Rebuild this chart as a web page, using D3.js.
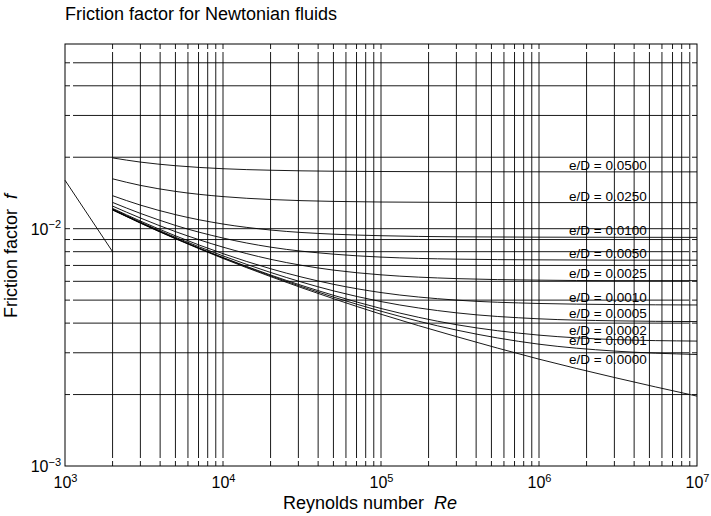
<!DOCTYPE html>
<html>
<head>
<meta charset="utf-8">
<script src="https://cdn.jsdelivr.net/npm/d3@7"></script>
<style>
body{margin:0;background:#fff;}
text{font-family:"Liberation Sans",Arial,Helvetica,sans-serif;fill:#000;white-space:pre;}
.title,.axislabel{font-size:18px;}
.ticklabel{font-size:16px;}
.legend{font-size:13.5px;}
.grid{stroke:#000;stroke-width:0.9;fill:none;}
.curve{stroke:#000;stroke-width:0.9;fill:none;}
.frame{stroke:#000;stroke-width:1;fill:none;}
</style>
</head>
<body>
<svg id="chart" width="711" height="516"></svg>
<script>
// Reynolds numbers where the curves were read
const reynolds = [2e3, 3e3, 5e3, 1e4, 2e4, 5e4, 1e5, 3e5, 1e6, 3e6, 1e7];

// friction factor read for each relative roughness e/D
const ed0500 = [0.01987, 0.01908, 0.01842, 0.01789, 0.01763, 0.01746, 0.01741, 0.01737, 0.01736, 0.01735, 0.01735];
const ed0250 = [0.01622, 0.01522, 0.01436, 0.01365, 0.01327, 0.01303, 0.01295, 0.01290, 0.01288, 0.01288, 0.01287];
const ed0100 = [0.01377, 0.01257, 0.01146, 0.01046, 0.00987, 0.00948, 0.00934, 0.00924, 0.00921, 0.00920, 0.00919];
const ed0050 = [0.01290, 0.01160, 0.01032, 0.00913, 0.00836, 0.00781, 0.00759, 0.00744, 0.00739, 0.00737, 0.00737];
const ed0025 = [0.01245, 0.01109, 0.00972, 0.00836, 0.00743, 0.00669, 0.00639, 0.00616, 0.00607, 0.00604, 0.00604];
const ed0010 = [0.01217, 0.01077, 0.00933, 0.00785, 0.00678, 0.00583, 0.00538, 0.00500, 0.00484, 0.00479, 0.00477];
const ed0005 = [0.01210, 0.01066, 0.00920, 0.00768, 0.00654, 0.00547, 0.00493, 0.00442, 0.00417, 0.00409, 0.00406];
const ed0002 = [0.01203, 0.01060, 0.00912, 0.00756, 0.00638, 0.00524, 0.00461, 0.00394, 0.00356, 0.00341, 0.00336];
const ed0001 = [0.01201, 0.01058, 0.00909, 0.00753, 0.00633, 0.00515, 0.00449, 0.00374, 0.00326, 0.00305, 0.00295];
const ed0000 = [0.01199, 0.01055, 0.00907, 0.00749, 0.00628, 0.00507, 0.00436, 0.00351, 0.00282, 0.00236, 0.00197];

const roughness = ["0.0500", "0.0250", "0.0100", "0.0050", "0.0025", "0.0010", "0.0005", "0.0002", "0.0001", "0.0000"];
const curves = [ed0500, ed0250, ed0100, ed0050, ed0025, ed0010, ed0005, ed0002, ed0001, ed0000];

// laminar branch
const laminarRe = [1e3, 2e3];
const laminarF = [0.016, 0.008];

const reTicks = [1e3, 1e4, 1e5, 1e6, 1e7];
const fTicks = [1e-3, 1e-2];
const labelRe = 1.55e6;

let svg = d3.select("#chart");
let xScale = d3.scaleLog().domain([1e3, 1e7]).range([65, 697]);
let yScale = d3.scaleLog().domain([1e-3, 6e-2]).range([466, 44]);

svg.append("text").attr("class", "title").attr("x", 65).attr("y", 20)
    .text("Friction factor for Newtonian fluids");

// e/D labels sit just above each curve near Re = 1.55e6 (drawn under the grid)
let t = Math.log(labelRe / reynolds[8]) / Math.log(reynolds[9] / reynolds[8]);
curves.forEach(function(c, i){
    let lf = (1 - t) * Math.log(c[8]) + t * Math.log(c[9]);
    svg.append("text").attr("class", "legend")
        .attr("x", xScale(labelRe)).attr("y", yScale(Math.exp(lf)) - 2)
        .text("e/D = " + roughness[i]);
});

// grid
let plotTop = yScale.range()[1], plotBottom = yScale.range()[0];
let plotLeft = xScale.range()[0], plotRight = xScale.range()[1];
let vlen = plotBottom - plotTop, hlen = plotRight - plotLeft;
svg.append("g").selectAll("line")
    .data(xScale.ticks().filter(d => d > 1e3 && d < 1e7))
    .join("line").attr("class", "grid")
    .attr("x1", d => xScale(d)).attr("x2", d => xScale(d))
    .attr("y1", plotBottom).attr("y2", plotTop)
    .attr("stroke-dasharray", "5,3," + (vlen - 16) + ",3,5");
svg.append("g").selectAll("line")
    .data(yScale.ticks().filter(d => d > 1.01e-3 && d < 0.059))
    .join("line").attr("class", "grid")
    .attr("y1", d => yScale(d)).attr("y2", d => yScale(d))
    .attr("x1", plotLeft).attr("x2", plotRight)
    .attr("stroke-dasharray", "5,3," + (hlen - 16) + ",3,5");

// curves
let lineGenerator = d3.line()
    .x(d => xScale(d[0]))
    .y(d => yScale(d[1]))
    .curve(d3.curveMonotoneX);
curves.forEach(function(c){
    svg.append("path").attr("class", "curve")
        .attr("d", lineGenerator(reynolds.map((r, i) => [r, c[i]])));
});
svg.append("path").attr("class", "curve")
    .attr("d", lineGenerator(laminarRe.map((r, i) => [r, laminarF[i]])));

svg.append("rect").attr("class", "frame")
    .attr("x", plotLeft).attr("y", plotTop).attr("width", hlen).attr("height", vlen);

// axes with power-of-ten labels
function powerLabel(sel){
    sel.each(function(d){
        let e = Math.round(Math.log10(d));
        let txt = d3.select(this).text("").attr("class", "ticklabel");
        txt.append("tspan").text("10");
        txt.append("tspan").attr("dy", -6.5).style("font-size", "11px")
            .text(e < 0 ? "\u2212" + (-e) : String(e));
    });
}
let xAxis = d3.axisBottom(xScale).tickValues(reTicks).tickSize(0).tickFormat(() => "");
let xg = svg.append("g").attr("transform", "translate(0," + plotBottom + ")").call(xAxis);
xg.select(".domain").remove();
xg.selectAll(".tick text").attr("y", 22).attr("dy", null).call(powerLabel);

let yAxis = d3.axisLeft(yScale).tickValues(fTicks).tickSize(0).tickFormat(() => "");
let yg = svg.append("g").attr("transform", "translate(" + plotLeft + ",0)").call(yAxis);
yg.select(".domain").remove();
yg.selectAll(".tick text").attr("x", -4).attr("dy", null).attr("y", 5.5).call(powerLabel);

let xl = svg.append("text").attr("class", "axislabel").attr("x", 370).attr("y", 509)
    .attr("text-anchor", "middle");
xl.append("tspan").text("Reynolds number  ");
xl.append("tspan").style("font-style", "italic").text("Re");

let yl = svg.append("text").attr("class", "axislabel")
    .attr("transform", "translate(17,256) rotate(-90)").attr("text-anchor", "middle");
yl.append("tspan").text("Friction factor  ");
yl.append("tspan").style("font-style", "italic").text("f");
</script>
</body>
</html>
